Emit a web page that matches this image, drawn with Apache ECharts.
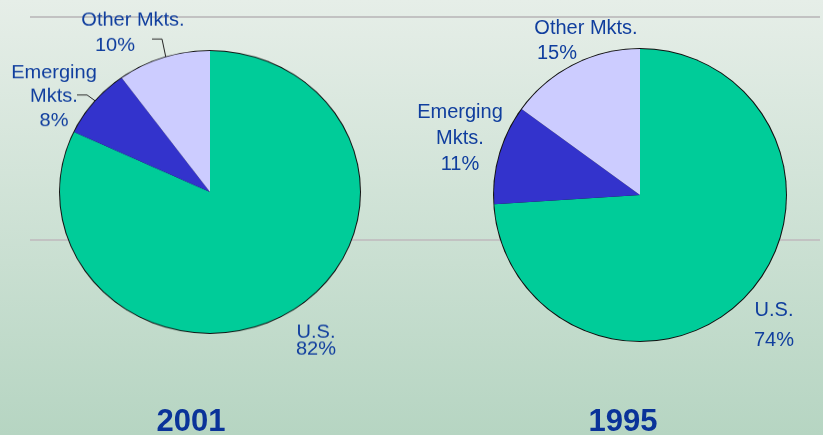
<!DOCTYPE html>
<html lang="en">
<head>
    <meta charset="UTF-8">
    <title>Market share pies</title>
    <script src="https://cdn.jsdelivr.net/npm/echarts@6/dist/echarts.min.js"></script>
    <style>
        body { margin: 0; }
        #wrap { position: relative; width: 823px; height: 435px; }
        #main, #left { position: absolute; left: 0; top: 0; width: 823px; height: 435px; }
        /* the 2001 pie is a little flattened in the original */
        #left { transform-origin: 210px 192px; transform: scaleY(0.94); }
    </style>
</head>
<body>
<div id="wrap">
    <div id="main"></div>
    <div id="left"></div>
</div>
<script>
    // data
    var segments = ['U.S.', 'Emerging\nMkts.', 'Other Mkts.'];
    var values2001 = [82, 8, 10];
    var values1995 = [74, 11, 15];
    var years = ['2001', '1995'];
    var colors = ['#00cc99', '#3333cc', '#ccccff'];

    var textColor = '#103e9e';
    var titleColor = '#0a3399';
    var font = 'Arial, "Liberation Sans", sans-serif';
    var squash = 0.94;   // vertical scale of the left chart
    var leftCy = 192;

    // label placement per slice (screen coords): block centre, line height, shift of the % line
    var place2001 = [
        {x: 316, y: 341, lh: 17, shift: 0, line: null},
        {x: 54, y: 97, lh: 24, shift: 0, line: [[97, 102], [87, 95], [77, 95]]},
        {x: 133, y: 33, lh: 26, shift: 36, line: [[166, 58], [162, 39], [152, 39]]}
    ];
    var place1995 = [
        {x: 774, y: 325, lh: 30, shift: 0, line: null},
        {x: 460, y: 138, lh: 26, shift: 0, line: null},
        {x: 586, y: 41, lh: 25, shift: 58, line: null}
    ];

    // screen y -> y inside the squashed left chart
    function unsquash(y) {
        return leftCy + (y - leftCy) / squash;
    }
    function localPlace(place) {
        return place.map(function (p) {
            return {
                x: p.x, y: unsquash(p.y), lh: p.lh / squash, shift: p.shift,
                line: p.line ? p.line.map(function (pt) { return [pt[0], unsquash(pt[1])]; }) : null
            };
        });
    }

    function buildData(values, place) {
        return values.map(function (v, i) {
            var p = place[i];
            return {
                name: segments[i],
                value: v,
                itemStyle: {color: colors[i]},
                label: {
                    formatter: '{n|' + segments[i] + '}\n{p|' + v + '%}',
                    rich: {
                        n: {fontSize: 20, lineHeight: p.lh, color: textColor, fontFamily: font},
                        p: {fontSize: 20, lineHeight: p.lh, color: textColor, fontFamily: font,
                            padding: [0, p.shift, 0, 0]}
                    }
                }
            };
        });
    }

    function pieSeries(values, place, center, r) {
        return [{
            // thin black outline behind the pie
            type: 'pie', silent: true, center: center, radius: r + 1,
            label: {show: false}, labelLine: {show: false},
            itemStyle: {color: '#111'},
            data: [{value: 1}],
            animation: false
        }, {
            type: 'pie', silent: true, center: center, radius: r,
            startAngle: 90, clockwise: true,
            animation: false,
            label: {show: true, position: 'outside', align: 'center', overflow: 'none'},
            labelLine: {show: true, lineStyle: {color: '#222', width: 1}, length: 5, length2: 5},
            labelLayout: function (params) {
                var p = place[params.dataIndex];
                return {
                    x: p.x, y: p.y, align: 'center', verticalAlign: 'middle',
                    labelLinePoints: p.line ? p.line : [[0, 0], [0, 0], [0, 0]]
                };
            },
            data: buildData(values, place)
        }];
    }

    var myChart = echarts.init(document.getElementById('main'));
    var option = {
        backgroundColor: new echarts.graphic.LinearGradient(0, 0, 0, 1, [
            {offset: 0, color: '#e6eee8'},
            {offset: 1, color: '#b6d5c2'}
        ]),
        title: [
            {text: years[0], left: 186, top: 402, textAlign: 'center',
                textStyle: {fontSize: 31, fontWeight: 'bold', color: titleColor, fontFamily: font}},
            {text: years[1], left: 618, top: 402, textAlign: 'center',
                textStyle: {fontSize: 31, fontWeight: 'bold', color: titleColor, fontFamily: font}}
        ],
        graphic: [
            {type: 'line', shape: {x1: 30, y1: 17, x2: 820, y2: 17}, z: -1,
                style: {stroke: '#c2c2c2', lineWidth: 2}},
            {type: 'line', shape: {x1: 30, y1: 240, x2: 820, y2: 240}, z: -1,
                style: {stroke: '#c2c2c2', lineWidth: 2}}
        ],
        series: pieSeries(values1995, place1995, [640, 195], 146)
    };
    myChart.setOption(option);

    var leftChart = echarts.init(document.getElementById('left'));
    leftChart.setOption({
        backgroundColor: 'transparent',
        series: pieSeries(values2001, localPlace(place2001), [210, leftCy], 150)
    });
</script>
</body>
</html>
